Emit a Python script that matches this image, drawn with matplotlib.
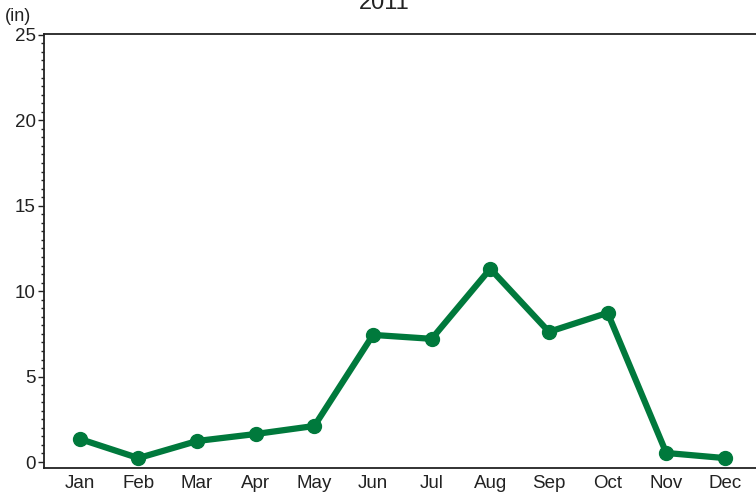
import matplotlib
matplotlib.use("Agg")
import matplotlib.pyplot as plt
from matplotlib.ticker import MultipleLocator

plt.rcParams['font.family'] = ['Liberation Sans', 'DejaVu Sans']

# Monthly precipitation, 2011 (inches)
months = ['Jan', 'Feb', 'Mar', 'Apr', 'May', 'Jun',
          'Jul', 'Aug', 'Sep', 'Oct', 'Nov', 'Dec']
precip = [1.35, 0.23, 1.23, 1.64, 2.11, 7.44,
          7.21, 11.31, 7.62, 8.73, 0.53, 0.23]

green = '#00793c'
text_col = '#222222'

fig = plt.figure(figsize=(7.56, 4.95), dpi=100)
ax = fig.add_axes([44 / 756, 27 / 495, 1 - 44 / 756, (468 - 34) / 495])

x = list(range(len(months)))
ax.plot(x, precip, color=green, linewidth=4.5, marker='o',
        markersize=10, solid_capstyle='round', solid_joinstyle='round')

ax.set_xlim(-0.61, 11.53)
ax.set_ylim(-0.35, 25.05)
ax.set_xticks(x)
ax.set_xticklabels(months)
ax.yaxis.set_major_locator(MultipleLocator(5))
ax.yaxis.set_minor_locator(MultipleLocator(0.5))

ax.tick_params(axis='x', length=0, pad=5, labelsize=13.5, colors=text_col)
ax.tick_params(axis='y', which='major', length=4, width=1, pad=2,
               labelsize=13.5, colors=text_col)
ax.tick_params(axis='y', which='minor', length=2.5, width=1, colors=text_col)

for side in ['left', 'bottom', 'top']:
    ax.spines[side].set_linewidth(1.3)
    ax.spines[side].set_color('#222222')
ax.spines['right'].set_visible(False)

fig.text(384 / 756, 1 - 9 / 495, '2011', ha='center', va='baseline',
         fontsize=17, color=text_col)
fig.text(5 / 756, 1 - 21 / 495, '(in)', ha='left', va='baseline',
         fontsize=13, color=text_col)

fig.savefig('out.png', dpi=100)
